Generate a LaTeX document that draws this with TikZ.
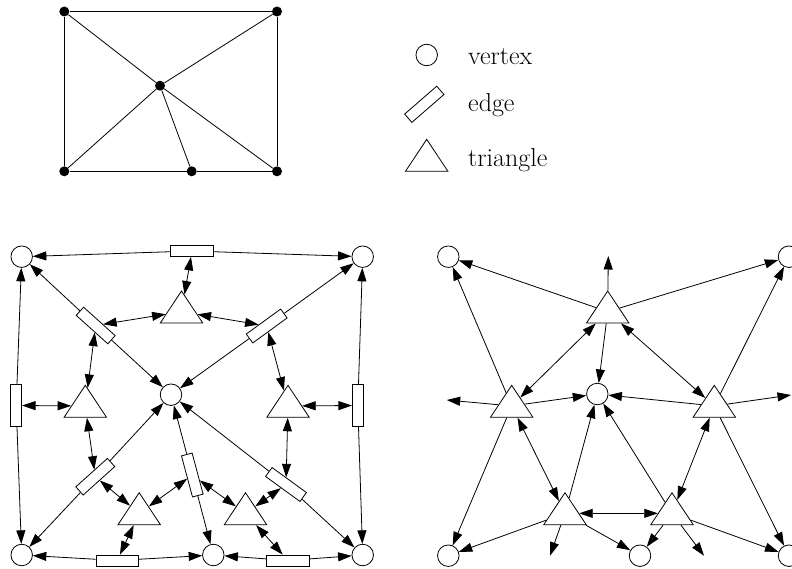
\documentclass[tikz,border=0pt]{standalone}
\usepackage{tikz}
\usetikzlibrary{arrows.meta,shapes.geometric}

\begin{document}
\begin{tikzpicture}[
    x=1pt, y=-1pt,
    dot/.style={circle, fill, inner sep=0pt, minimum size=10pt},
    vtx/.style={circle, draw, line width=0.8pt, inner sep=0pt, minimum size=21.5pt},
    edg/.style={rectangle, draw, line width=0.8pt, inner sep=0pt, minimum width=42.5pt, minimum height=11pt},
    tri/.style={isosceles triangle, isosceles triangle stretches, shape border rotate=90, draw, line width=0.8pt, inner sep=0pt, minimum height=32pt, minimum width=42.5pt},
    arr/.style={-{Triangle[length=13.5pt, width=9pt]}, line width=0.8pt},
    dbl/.style={{Triangle[length=13.5pt, width=9pt]}-{Triangle[length=13.5pt, width=9pt]}, line width=0.8pt},
    lbl/.style={anchor=base west, inner sep=0pt, font=\fontsize{26}{30}\selectfont}
  ]
    \path[use as bounding box, clip] (0,0) rectangle (792,569);

    \node[dot] (g1) at (64.3,11.5) {};
    \node[dot] (g2) at (277,11.5) {};
    \node[dot] (g3) at (160,85.7) {};
    \node[dot] (g4) at (64.3,171.3) {};
    \node[dot] (g5) at (191.7,171.3) {};
    \node[dot] (g6) at (277,171.3) {};
    \draw[line width=0.8pt] (g1) -- (g2) -- (g6) -- (g5) -- (g4) -- (g1);
    \draw[line width=0.8pt] (g1) -- (g3) -- (g2);
    \draw[line width=0.8pt] (g4) -- (g3) -- (g6);
    \draw[line width=0.8pt] (g3) -- (g5);

    \node[vtx] (lv) at (426.7,55) {};
    \node[edg, rotate=41] (le) at (424.3,104.3) {};
    \node[tri, anchor=apex] (lt) at (426.7,138.3) {};
    \node[lbl] (tv) at (468,65) {vertex};
    \node[lbl] (te) at (468,111.7) {edge};
    \node[lbl] (tt) at (468,166.7) {triangle};

    \node[vtx] (va) at (21.7,256.7) {};
    \node[vtx] (vb) at (362.7,256.7) {};
    \node[vtx] (vc) at (171,394.7) {};
    \node[vtx] (vd) at (21.7,555) {};
    \node[vtx] (ve) at (213.3,555) {};
    \node[vtx] (vf) at (362.7,555) {};
    \node[edg] (eab) at (192,251) {};
    \node[edg, rotate=-42] (eac) at (95.7,325.5) {};
    \node[edg, rotate=36] (ebc) at (266.7,326) {};
    \node[edg, rotate=90] (ead) at (16.2,405.5) {};
    \node[edg, rotate=90] (ebf) at (357.8,405.5) {};
    \node[edg, rotate=42] (ecd) at (95.3,476.7) {};
    \node[edg, rotate=-75] (ece) at (192.3,475) {};
    \node[edg, rotate=-36] (ecf) at (286,484.5) {};
    \node[edg] (ede) at (117.2,560.5) {};
    \node[edg] (eef) at (288,560.5) {};
    \node[tri, anchor=apex] (tabc) at (181.5,290) {};
    \node[tri, anchor=apex] (tacd) at (85.3,384.3) {};
    \node[tri, anchor=apex] (tbcf) at (288,384.3) {};
    \node[tri, anchor=apex] (tcde) at (139.2,491.7) {};
    \node[tri, anchor=apex] (tcef) at (245.5,491.7) {};

    \draw[arr] (eab) -- (va);
    \draw[arr] (eab) -- (vb);
    \draw[arr] (eac) -- (va);
    \draw[arr] (eac) -- (vc);
    \draw[arr] (ebc) -- (vb);
    \draw[arr] (ebc) -- (vc);
    \draw[arr] (ead) -- (va);
    \draw[arr] (ead) -- (vd);
    \draw[arr] (ebf) -- (vb);
    \draw[arr] (ebf) -- (vf);
    \draw[arr] (ecd) -- (vc);
    \draw[arr] (ecd) -- (vd);
    \draw[arr] (ece) -- (vc);
    \draw[arr] (ece) -- (ve);
    \draw[arr] (ecf) -- (vc);
    \draw[arr] (ecf) -- (vf);
    \draw[arr] (ede) -- (vd);
    \draw[arr] (ede) -- (ve);
    \draw[arr] (eef) -- (ve);
    \draw[arr] (eef) -- (vf);
    \draw[dbl] (tabc) -- (eab);
    \draw[dbl] (tabc) -- (eac);
    \draw[dbl] (tabc) -- (ebc);
    \draw[dbl] (tacd) -- (ead);
    \draw[dbl] (tacd) -- (eac);
    \draw[dbl] (tacd) -- (ecd);
    \draw[dbl] (tbcf) -- (ebf);
    \draw[dbl] (tbcf) -- (ebc);
    \draw[dbl] (tbcf) -- (ecf);
    \draw[dbl] (tcde) -- (ecd);
    \draw[dbl] (tcde) -- (ece);
    \draw[dbl] (tcde) -- (ede);
    \draw[dbl] (tcef) -- (ece);
    \draw[dbl] (tcef) -- (ecf);
    \draw[dbl] (tcef) -- (eef);

    \node[vtx] (wa) at (448.3,256.7) {};
    \node[vtx] (wb) at (789,256.7) {};
    \node[vtx] (wc) at (597.3,394) {};
    \node[vtx] (wd) at (448.3,555.7) {};
    \node[vtx] (we) at (640,555.7) {};
    \node[vtx] (wf) at (789,555.7) {};
    \node[tri, anchor=apex] (sabc) at (607.7,290) {};
    \node[tri, anchor=apex] (sacd) at (511.7,384.3) {};
    \node[tri, anchor=apex] (sbcf) at (714.3,384.3) {};
    \node[tri, anchor=apex] (scde) at (565,491.7) {};
    \node[tri, anchor=apex] (scef) at (672,491.7) {};
    \coordinate (oabc) at (608.3,256);
    \coordinate (oacd) at (446.7,400);
    \coordinate (obcf) at (791,395);
    \coordinate (ocde) at (550,555.7);
    \coordinate (ocef) at (704,555.7);

    \draw[arr] (sabc) -- (wa);
    \draw[arr] (sabc) -- (wb);
    \draw[arr] (sabc) -- (oabc);
    \draw[arr] (sabc) -- (wc);
    \draw[arr] (sacd) -- (wa);
    \draw[arr] (sacd) -- (oacd);
    \draw[arr] (sacd) -- (wc);
    \draw[arr] (sacd) -- (wd);
    \draw[arr] (sbcf) -- (wb);
    \draw[arr] (sbcf) -- (obcf);
    \draw[arr] (sbcf) -- (wc);
    \draw[arr] (sbcf) -- (wf);
    \draw[arr] (scde) -- (wc);
    \draw[arr] (scde) -- (wd);
    \draw[arr] (scde) -- (we);
    \draw[arr] (scde) -- (ocde);
    \draw[arr] (scef) -- (wc);
    \draw[arr] (scef) -- (we);
    \draw[arr] (scef) -- (wf);
    \draw[arr] (scef) -- (ocef);
    \draw[dbl] (sabc) -- (sacd);
    \draw[dbl] (sabc) -- (sbcf);
    \draw[dbl] (sacd) -- (scde);
    \draw[dbl] (sbcf) -- (scef);
    \draw[dbl] (scde) -- (scef);
\end{tikzpicture}
\end{document}
